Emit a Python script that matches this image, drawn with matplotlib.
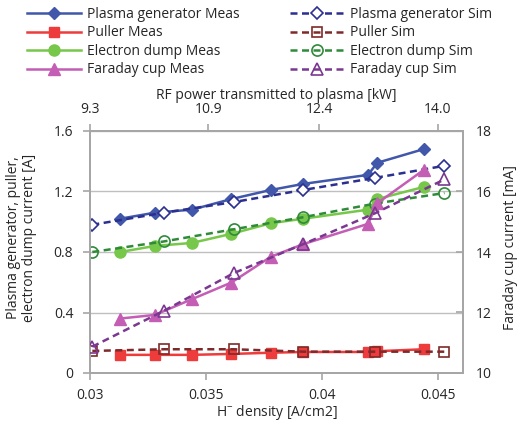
import matplotlib
matplotlib.use("Agg")
import matplotlib.pyplot as plt

plt.rcParams['font.family'] = ['Open Sans', 'DejaVu Sans']
plt.rcParams['font.size'] = 10

# H- density of the measured and simulated operating points [A/cm2]
meas_density = [0.0313, 0.0328, 0.0344, 0.0361, 0.0378, 0.0392, 0.0420, 0.0424, 0.0444]
sim_density = [0.0301, 0.0332, 0.0362, 0.0392, 0.0423, 0.0453]

# Currents [A]
plasma_gen_meas = [1.02, 1.06, 1.08, 1.15, 1.21, 1.25, 1.31, 1.39, 1.48]
plasma_gen_sim = [0.98, 1.06, 1.13, 1.21, 1.29, 1.37]
puller_meas = [0.12, 0.12, 0.12, 0.126, 0.134, 0.139, 0.139, 0.144, 0.157]
puller_sim = [0.146, 0.157, 0.157, 0.141, 0.141, 0.141]
edump_meas = [0.80, 0.84, 0.86, 0.92, 0.99, 1.02, 1.08, 1.15, 1.23]
edump_sim = [0.80, 0.87, 0.95, 1.03, 1.12, 1.19]

# Faraday cup current [mA]
faraday_meas = [11.80, 11.92, 12.44, 12.99, 13.84, 14.26, 14.93, 15.61, 16.71]
faraday_sim = [10.87, 12.06, 13.30, 14.26, 15.28, 16.40]

left_ticks = [0, 0.4, 0.8, 1.2, 1.6]
left_labels = ["0", "0.4", "0.8", "1.2", "1.6"]
right_ticks = [10, 12, 14, 16, 18]
bottom_ticks = [0.03, 0.035, 0.04, 0.045]
bottom_labels = ["0.03", "0.035", "0.04", "0.045"]
rf_ticks = [9.3, 10.9, 12.4, 14.0]
rf_labels = ["9.3", "10.9", "12.4", "14.0"]

labels_meas = ["Plasma generator Meas", "Puller Meas", "Electron dump Meas", "Faraday cup Meas"]
labels_sim = ["Plasma generator Sim", "Puller Sim", "Electron dump Sim", "Faraday cup Sim"]

c_pg_m, c_pg_s = "#4157AA", "#2B2F8F"
c_pu_m, c_pu_s = "#EE3B3B", "#7E2A2A"
c_ed_m, c_ed_s = "#77C74A", "#2F8A3A"
c_fc_m, c_fc_s = "#C45DB4", "#7A3890"
axis_gray = "#A6A6A6"
grid_gray = "#BFBFBF"
text_col = "#262626"
fs = 10

W, H = 519, 422
fig = plt.figure(figsize=(W / 100, H / 100), dpi=100)
x0, x1, y0, y1 = 90, 463, 131, 373
ax = fig.add_axes([x0 / W, 1 - y1 / H, (x1 - x0) / W, (y1 - y0) / H])
ax2 = ax.twinx()

lw = 1.8
dash = (0, (2.8, 1.8))

l_pg_m, = ax.plot(meas_density, plasma_gen_meas, color=c_pg_m, lw=lw, marker='D', ms=6.5, zorder=5)
l_pu_m, = ax.plot(meas_density, puller_meas, color=c_pu_m, lw=lw, marker='s', ms=7.5, zorder=4)
l_ed_m, = ax.plot(meas_density, edump_meas, color=c_ed_m, lw=lw, marker='o', ms=8, zorder=4)
l_pg_s, = ax.plot(sim_density, plasma_gen_sim, color=c_pg_s, lw=lw, ls=dash, marker='D', ms=6.5,
                  mfc='white', mec=c_pg_s, mew=1.2, zorder=6)
l_pu_s, = ax.plot(sim_density, puller_sim, color=c_pu_s, lw=lw, ls=dash, marker='s', ms=7.5,
                  mfc='none', mec=c_pu_s, mew=1.2, zorder=6)
l_ed_s, = ax.plot(sim_density, edump_sim, color=c_ed_s, lw=lw, ls=dash, marker='o', ms=8,
                  mfc='none', mec=c_ed_s, mew=1.2, zorder=6)

l_fc_m, = ax2.plot(meas_density, faraday_meas, color=c_fc_m, lw=lw, marker='^', ms=8, zorder=4)
l_fc_s, = ax2.plot(sim_density, faraday_sim, color=c_fc_s, lw=lw, ls=dash, marker='^', ms=8,
                   mfc='none', mec=c_fc_s, mew=1.2, zorder=5)

ax.set_xlim(0.03, 0.0461)
ax.set_ylim(0, 1.6)
ax2.set_ylim(10, 18)
ax.set_xticks(bottom_ticks)
ax.set_xticklabels(bottom_labels)
ax.set_yticks(left_ticks)
ax.set_yticklabels(left_labels)
ax2.set_yticks(right_ticks)

ax.grid(axis='y', color=grid_gray, lw=1.0)
ax.set_axisbelow(True)

for a in (ax, ax2):
    for s in a.spines.values():
        s.set_color(axis_gray)
        s.set_linewidth(1.4)

ax.tick_params(axis='x', direction='out', length=5, width=1.2, color=axis_gray,
               labelcolor=text_col, pad=6, labelsize=fs)
ax.tick_params(axis='y', direction='out', length=5, width=1.2, color=axis_gray,
               labelcolor=text_col, pad=7, labelsize=fs)
ax2.tick_params(axis='y', direction='in', length=5, width=1.2, color=axis_gray,
                labelcolor=text_col, pad=9, labelsize=fs)


def to_rf(d):
    return 9.3 + (d - 0.03) * (14.0 - 9.3) / 0.015


def to_density(p):
    return 0.03 + (p - 9.3) * 0.015 / (14.0 - 9.3)


top = ax.secondary_xaxis('top', functions=(to_rf, to_density))
top.set_xticks(rf_ticks)
top.set_xticklabels(rf_labels)
top.spines['top'].set_color(axis_gray)
top.spines['top'].set_linewidth(1.4)
top.tick_params(direction='out', length=5, width=1.2, color=axis_gray, labelcolor=text_col,
                pad=5, labelsize=fs)
top.set_xlabel("RF power transmitted to plasma [kW]", color=text_col, fontsize=fs, labelpad=2)

ax.set_xlabel("H$^{\\mathregular{-}}$ density [A/cm2]", color=text_col, fontsize=fs, labelpad=0)
ax.set_ylabel("Plasma generator, puller,\nelectron dump current [A]", color=text_col,
              fontsize=fs, linespacing=1.1)
ax.yaxis.set_label_coords(-0.142, 0.56)
ax2.set_ylabel("Faraday cup current [mA]", color=text_col, fontsize=fs)
ax2.yaxis.set_label_coords(1.107, 0.52)

leg_kw = dict(loc='upper left', frameon=False, fontsize=fs, handlelength=3.9,
              handletextpad=0.45, labelspacing=0.25, borderpad=0, borderaxespad=0,
              labelcolor=text_col)
fig.legend([l_pg_m, l_pu_m, l_ed_m, l_fc_m], labels_meas,
           bbox_to_anchor=(27 / W, 1 - 7 / H), **leg_kw)
fig.legend([l_pg_s, l_pu_s, l_ed_s, l_fc_s], labels_sim,
           bbox_to_anchor=(290 / W, 1 - 7 / H), **leg_kw)

fig.savefig("out.png", dpi=100)
